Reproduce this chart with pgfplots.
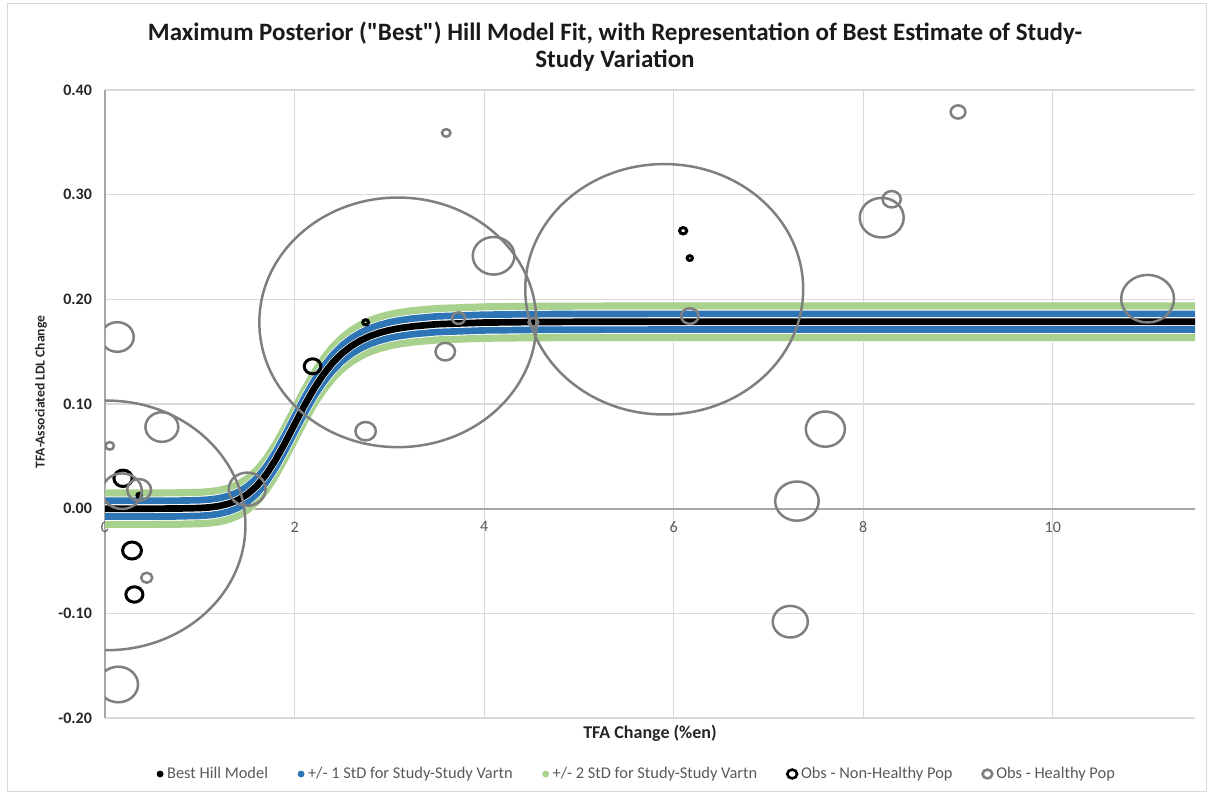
\documentclass[border=0pt]{standalone}
\usepackage{pgfplots}
\usepackage{pgfplotstable}
\pgfplotsset{compat=1.18}
\usepackage{fontspec}
\setmainfont{Carlito}[Ligatures=TeXOff]

\definecolor{sdblue}{HTML}{2E75B6}
\definecolor{sdgreen}{HTML}{A9D18E}
\definecolor{obsgray}{HTML}{7F7F7F}
\definecolor{gridgray}{HTML}{D9D9D9}
\definecolor{axisgray}{HTML}{A6A6A6}
\definecolor{labelgray}{HTML}{595959}
\definecolor{titleblack}{HTML}{1A1A1A}

% open oval bubble (slightly wider than tall)
\pgfdeclareplotmark{bubble}{%
  \pgfpathellipse{\pgfpointorigin}{\pgfqpoint{1.11\pgfplotmarksize}{0pt}}{\pgfqpoint{0pt}{\pgfplotmarksize}}%
  \pgfusepathqstroke}

% Hill model fit with +/- 1 and 2 StD study-study bands
\pgfplotstableread{
x     y       p1      m1       p2      m2
0     0.0000  0.0075  -0.0075  0.0150  -0.0150
0.5   0.0000  0.0075  -0.0075  0.0150  -0.0150
0.75  0.0001  0.0076  -0.0074  0.0151  -0.0149
1.0   0.0006  0.0081  -0.0069  0.0156  -0.0144
1.1   0.0012  0.0087  -0.0063  0.0162  -0.0138
1.2   0.0024  0.0099  -0.0051  0.0174  -0.0126
1.3   0.0046  0.0121  -0.0029  0.0196  -0.0104
1.4   0.0081  0.0156  0.0006   0.0231  -0.0069
1.5   0.0136  0.0211  0.0061   0.0286  -0.0014
1.6   0.0216  0.0291  0.0141   0.0366  0.0066
1.7   0.0326  0.0401  0.0251   0.0476  0.0176
1.8   0.0466  0.0541  0.0391   0.0616  0.0316
1.9   0.0630  0.0705  0.0555   0.0780  0.0480
2.0   0.0805  0.0880  0.0730   0.0955  0.0655
2.1   0.0979  0.1054  0.0904   0.1129  0.0829
2.2   0.1139  0.1214  0.1064   0.1289  0.0989
2.3   0.1277  0.1352  0.1202   0.1427  0.1127
2.4   0.1392  0.1467  0.1317   0.1542  0.1242
2.5   0.1483  0.1558  0.1408   0.1633  0.1333
2.6   0.1554  0.1629  0.1479   0.1704  0.1404
2.7   0.1608  0.1683  0.1533   0.1758  0.1458
2.8   0.1650  0.1725  0.1575   0.1800  0.1500
2.9   0.1681  0.1756  0.1606   0.1831  0.1531
3.0   0.1705  0.1780  0.1630   0.1855  0.1555
3.1   0.1723  0.1798  0.1648   0.1873  0.1573
3.25  0.1742  0.1817  0.1667   0.1892  0.1592
3.5   0.1762  0.1837  0.1687   0.1912  0.1612
4.0   0.1778  0.1853  0.1703   0.1928  0.1628
4.5   0.1783  0.1858  0.1708   0.1933  0.1633
5.0   0.1785  0.1860  0.1710   0.1935  0.1635
6.0   0.1786  0.1861  0.1711   0.1936  0.1636
8.0   0.1786  0.1861  0.1711   0.1936  0.1636
11.5  0.1786  0.1861  0.1711   0.1936  0.1636
}\hillfit

% observations, healthy populations (r = bubble radius in pt)
\pgfplotstableread{
x      y        r
0.02   -0.016   62.4
3.09   0.178    62.4
5.90   0.2096   62.6
0.14   -0.168   8.9
0.13   0.164    7.4
0.60   0.078    7.4
0.05   0.060    1.9
0.18   0.0167   8.9
0.36   0.018    5.4
0.44   -0.066   2.5
1.50   0.0186   8.3
4.10   0.2416   9.4
3.59   0.150    4.4
2.75   0.074    4.6
3.73   0.182    2.9
3.60   0.359    1.9
6.17   0.184    3.9
7.60   0.076    8.8
7.30   0.0072   9.8
7.23   -0.108   7.9
8.195  0.278    9.9
8.30   0.2956   4.1
9.00   0.379    3.3
11.00  0.2006   11.9
4.52   0.178    2.2
}\healthy

% observations, non-healthy populations
\pgfplotstableread{
x      y        r
0.19   0.029    4.1
0.285  -0.040   4.25
0.31   -0.082   3.85
0.36   0.0127   1.0
2.75   0.178    1.3
2.19   0.136    3.75
6.10   0.2655   1.6
6.17   0.2394   1.2
}\nonhealthy

\begin{document}
\begin{tikzpicture}
\path[use as bounding box] (0,0) rectangle (606pt,398pt);
\draw[gridgray, line width=0.5pt] (3.5pt,2pt) rectangle (603pt,396pt);

\begin{axis}[
  at={(52.5pt,39pt)}, anchor=south west,
  scale only axis, width=545pt, height=314pt,
  xmin=0, xmax=11.5, ymin=-0.2, ymax=0.4,
  axis x line=middle, axis y line=left,
  axis line style={draw=axisgray, line width=1pt, -},
  every inner x axis line/.append style={-},
  every outer y axis line/.append style={-},
  xtick={0,2,4,6,8,10}, xticklabels={0,2,4,6,8,10},
  ytick={-0.2,-0.1,0,0.1,0.2,0.3,0.4},
  yticklabels={-0.20,-0.10,0.00,0.10,0.20,0.30,0.40},
  hide obscured x ticks=false,
  major tick length=0pt,
  grid=major, grid style={draw=gridgray, line width=0.6pt},
  xticklabel style={font=\fontsize{8}{9}\selectfont, text=labelgray, yshift=-3pt},
  yticklabel style={font=\bfseries\fontsize{8}{9}\selectfont, text=black!85, xshift=-3pt},
  clip marker paths=true,
  legend columns=5,
  legend style={at={(axis description cs:0.489,-0.0892)}, anchor=center,
    draw=none, fill=none, font=\fontsize{8.2}{9}\selectfont, text=labelgray,
    /tikz/every even column/.append style={column sep=13pt}},
  legend image code/.code={\draw[#1] plot coordinates {(0.1cm,0cm)};},
]
% legend keys
\addlegendimage{only marks, mark=*, mark size=1.5pt, black}
\addlegendentry{Best Hill Model}
\addlegendimage{only marks, mark=*, mark size=1.5pt, sdblue}
\addlegendentry{+/- 1 StD for Study-Study Vartn}
\addlegendimage{only marks, mark=*, mark size=1.5pt, sdgreen}
\addlegendentry{+/- 2 StD for Study-Study Vartn}
\addlegendimage{only marks, mark=bubble, mark size=2.2pt, line width=1.3pt, black}
\addlegendentry{Obs - Non-Healthy Pop}
\addlegendimage{only marks, mark=bubble, mark size=2.2pt, line width=1.3pt, obsgray}
\addlegendentry{Obs - Healthy Pop}

% +/- 2 StD
\addplot[forget plot, no marks, white, line width=4.2pt] table[x=x,y=p2] {\hillfit};
\addplot[forget plot, no marks, sdgreen, line width=3.6pt] table[x=x,y=p2] {\hillfit};
\addplot[forget plot, no marks, white, line width=4.2pt] table[x=x,y=m2] {\hillfit};
\addplot[forget plot, no marks, sdgreen, line width=3.6pt] table[x=x,y=m2] {\hillfit};
% +/- 1 StD
\addplot[forget plot, no marks, white, line width=4.0pt] table[x=x,y=p1] {\hillfit};
\addplot[forget plot, no marks, sdblue, line width=3.35pt] table[x=x,y=p1] {\hillfit};
\addplot[forget plot, no marks, white, line width=4.0pt] table[x=x,y=m1] {\hillfit};
\addplot[forget plot, no marks, sdblue, line width=3.35pt] table[x=x,y=m1] {\hillfit};
% best Hill model
\addplot[forget plot, no marks, white, line width=4.0pt] table[x=x,y=y] {\hillfit};
\addplot[forget plot, no marks, black, line width=3.35pt] table[x=x,y=y] {\hillfit};

% observations
\addplot[forget plot, only marks, mark=bubble, draw=black, line width=1.5pt,
  visualization depends on={\thisrow{r} \as \rr},
  scatter, scatter/@pre marker code/.style={/tikz/mark size=\rr},
  scatter/@post marker code/.style={}] table[x=x,y=y] {\nonhealthy};
\addplot[forget plot, only marks, mark=bubble, draw=obsgray, line width=1.25pt,
  visualization depends on={\thisrow{r} \as \rr},
  scatter, scatter/@pre marker code/.style={/tikz/mark size=\rr},
  scatter/@post marker code/.style={}] table[x=x,y=y] {\healthy};
\end{axis}

\node[align=center, text=titleblack, font=\bfseries\fontsize{12.5}{13.5}\selectfont]
  at (307.5pt,374.75pt)
  {Maximum Posterior ("Best") Hill Model Fit, with Representation of Best Estimate of Study-\\Study Variation};
\node[text=black!85, font=\bfseries\fontsize{9}{10}\selectfont] at (325pt,31.5pt) {TFA Change (\%en)};
\node[rotate=90, text=black!85, font=\bfseries\fontsize{6.8}{8}\selectfont] at (20.5pt,202pt) {TFA-Associated LDL Change};
\end{tikzpicture}
\end{document}
